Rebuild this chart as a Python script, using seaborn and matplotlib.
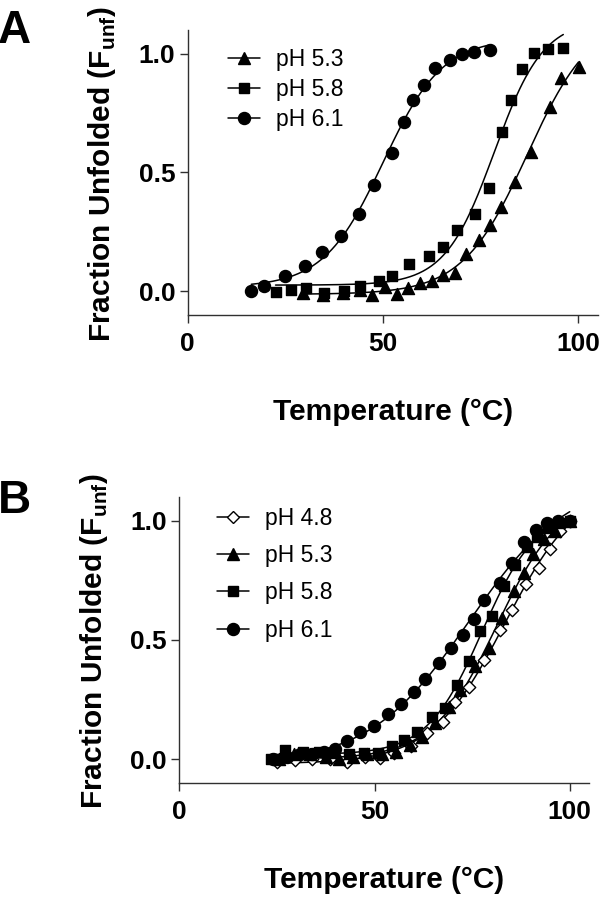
import numpy as np
import matplotlib
matplotlib.use('Agg')
import matplotlib.pyplot as plt
from matplotlib.lines import Line2D
import seaborn as sns

# Panel A data (temperature in C, fraction unfolded)
a_ph53_t = [29.5, 34.7, 39.8, 44.1, 47.2, 50.5, 53.5, 56.4, 59.6, 62.5, 65.4, 68.5,
            71.4, 74.6, 77.4, 80.2, 83.9, 88.0, 92.9, 95.6, 100.1]
a_ph53_f = [-0.007, -0.017, -0.007, 0.004, -0.015, 0.018, -0.013, 0.015, 0.036, 0.042,
            0.070, 0.077, 0.158, 0.215, 0.278, 0.355, 0.460, 0.586, 0.776, 0.899, 0.944]
a_ph58_t = [22.5, 26.5, 30.4, 34.8, 40.0, 44.1, 49.0, 52.3, 56.7, 61.9, 65.4, 68.9,
            73.5, 77.1, 80.5, 82.8, 85.7, 88.8, 92.2, 96.2]
a_ph58_f = [-0.003, 0.007, 0.015, -0.006, 0.001, 0.022, 0.042, 0.065, 0.114, 0.149,
            0.185, 0.259, 0.327, 0.433, 0.670, 0.804, 0.937, 1.003, 1.018, 1.025]
a_ph61_t = [16.3, 19.6, 24.9, 30.0, 34.5, 39.2, 43.8, 47.6, 52.3, 55.5, 57.6, 60.4,
            63.4, 67.1, 70.3, 73.3, 77.5]
a_ph61_f = [0.0, 0.022, 0.066, 0.107, 0.167, 0.233, 0.324, 0.448, 0.582, 0.713, 0.806,
            0.867, 0.94, 0.975, 0.997, 1.007, 1.017]

# Panel B data
b_ph48_t = [25.1, 29.6, 33.9, 38.7, 42.9, 47.6, 51.5, 55.0, 59.3, 63.5, 67.5, 70.7,
            74.1, 78.0, 82.2, 85.3, 88.8, 92.0, 95.0, 97.6, 100.0]
b_ph48_f = [-0.01, -0.005, 0.0, 0.0, -0.01, 0.01, 0.003, 0.024, 0.055, 0.108, 0.157,
            0.24, 0.304, 0.417, 0.543, 0.627, 0.733, 0.80, 0.883, 0.957, 1.0]
b_ph53_t = [25.5, 29.5, 33.5, 37.5, 41.0, 44.5, 48.0, 52.0, 55.5, 59.0, 62.2, 65.6,
            69.0, 72.0, 75.8, 79.2, 82.7, 85.6, 88.2, 90.6, 93.3, 96.3, 100.0]
b_ph53_f = [0.0, 0.02, 0.02, 0.01, 0.0, 0.01, 0.02, 0.02, 0.03, 0.06, 0.094, 0.15,
            0.22, 0.29, 0.389, 0.466, 0.592, 0.705, 0.78, 0.859, 0.922, 0.957, 1.0]
b_ph58_t = [23.5, 27.1, 31.8, 35.9, 39.5, 43.4, 47.2, 51.0, 54.6, 57.5, 60.9, 64.7,
            68.1, 71.1, 74.1, 77.1, 80.1, 83.1, 86.1, 89.1, 91.6, 94.5, 97.2, 100.0]
b_ph58_f = [0.0, 0.04, 0.031, 0.031, 0.025, 0.021, 0.024, 0.024, 0.056, 0.08, 0.115,
            0.178, 0.213, 0.312, 0.413, 0.536, 0.602, 0.726, 0.813, 0.891, 0.933, 0.97,
            0.99, 1.0]
b_ph61_t = [24.0, 27.5, 31.0, 34.0, 37.0, 39.8, 43.0, 46.3, 49.9, 53.5, 56.8, 60.0,
            63.0, 66.4, 69.7, 72.6, 75.4, 78.1, 82.2, 85.2, 88.4, 91.3, 94.2, 97.0, 100.0]
b_ph61_f = [0.0, 0.01, 0.02, 0.02, 0.03, 0.041, 0.077, 0.115, 0.14, 0.189, 0.233, 0.282,
            0.336, 0.403, 0.466, 0.522, 0.589, 0.667, 0.74, 0.821, 0.912, 0.96, 0.992,
            1.0, 1.0]

x_ticks = [0, 50, 100]
y_ticks = [0.0, 0.5, 1.0]
y_ticklabels = ['0.0', '0.5', '1.0']


def boltzmann_fit(t, f):
    # grid search on Tm / slope, bottom and top solved by least squares
    t = np.asarray(t, float)
    f = np.asarray(f, float)
    tm = np.arange(30, 130, 0.25)[:, None, None]
    k = np.arange(1.0, 30, 0.1)[None, :, None]
    s = 1 / (1 + np.exp((tm - t) / k))
    u = 1 - s
    a = (u * u).sum(-1)
    b = (u * s).sum(-1)
    c = (s * s).sum(-1)
    d = (u * f).sum(-1)
    e = (s * f).sum(-1)
    det = a * c - b * b
    bot = (c * d - b * e) / det
    top = (a * e - b * d) / det
    res = ((f - bot[..., None] * u - top[..., None] * s) ** 2).sum(-1)
    i, j = np.unravel_index(np.nanargmin(res), res.shape)
    tt = np.linspace(t.min(), t.max(), 200)
    ff = bot[i, j] + (top[i, j] - bot[i, j]) / (1 + np.exp((tm[i, 0, 0] - tt) / k[0, j, 0]))
    return tt, ff


sns.set_style('ticks')
plt.rcParams['font.family'] = ['Liberation Sans', 'DejaVu Sans']
plt.rcParams['font.weight'] = 'bold'
plt.rcParams['text.color'] = 'black'
plt.rcParams['axes.labelcolor'] = 'black'
plt.rcParams['xtick.color'] = 'black'
plt.rcParams['ytick.color'] = 'black'
plt.rcParams['mathtext.fontset'] = 'custom'
plt.rcParams['mathtext.rm'] = 'Liberation Sans:bold'
plt.rcParams['mathtext.bf'] = 'Liberation Sans:bold'

fig = plt.figure(figsize=(6, 9), dpi=100)
ax_a = fig.add_axes([0.3128, 0.65, 0.6833, 0.3167])
ax_b = fig.add_axes([0.2988, 0.13, 0.6833, 0.3178])

styles = {
    'pH 4.8': dict(marker='D', s=40, fc='white'),
    'pH 5.3': dict(marker='^', s=75, fc='black'),
    'pH 5.8': dict(marker='s', s=60, fc='black'),
    'pH 6.1': dict(marker='o', s=75, fc='black'),
}

panels = [
    (ax_a, [('pH 5.3', a_ph53_t, a_ph53_f), ('pH 5.8', a_ph58_t, a_ph58_f),
            ('pH 6.1', a_ph61_t, a_ph61_f)], 0.3, (0.098, 0.935)),
    (ax_b, [('pH 4.8', b_ph48_t, b_ph48_f), ('pH 5.3', b_ph53_t, b_ph53_f),
            ('pH 5.8', b_ph58_t, b_ph58_f), ('pH 6.1', b_ph61_t, b_ph61_f)], 0.62, (0.092, 0.965)),
]

for ax, series, lspace, anchor in panels:
    handles = []
    for name, t, f in series:
        st = styles[name]
        tt, ff = boltzmann_fit(t, f)
        sns.lineplot(x=tt, y=ff, ax=ax, color='black', lw=1.1, zorder=2)
        sns.scatterplot(x=t, y=f, ax=ax, marker=st['marker'], s=st['s'],
                        facecolor=st['fc'], edgecolor='black', linewidth=1.0, zorder=3)
        handles.append(Line2D([], [], color='black', lw=1.1, marker=st['marker'],
                              markersize=np.sqrt(st['s']), markerfacecolor=st['fc'],
                              markeredgecolor='black', markeredgewidth=1.0, label=name))
    ax.legend(handles=handles, loc='upper left', bbox_to_anchor=anchor, frameon=False,
              borderaxespad=0, borderpad=0, labelspacing=lspace, handlelength=1.4,
              handletextpad=0.7, prop={'size': 16.5, 'weight': 'normal'})
    ax.set_xlim(0, 105)
    ax.set_ylim(-0.1, 1.1)
    ax.set_xticks(x_ticks)
    ax.set_yticks(y_ticks)
    ax.set_yticklabels(y_ticklabels)
    ax.tick_params(axis='both', direction='out', length=6, width=1.0, color='#303030',
                   labelsize=19, labelcolor='black')
    ax.tick_params(axis='x', pad=6)
    ax.tick_params(axis='y', pad=3)
    for sp in ['left', 'bottom']:
        ax.spines[sp].set_linewidth(1.0)
        ax.spines[sp].set_color('#303030')
    sns.despine(ax=ax)
    ax.set_xlabel('Temperature (°C)', fontsize=21.5, fontweight='bold')
    ax.set_ylabel(r'Fraction Unfolded (F$_{\mathrm{unf}}$)', fontsize=21.5, fontweight='bold')
    ax.xaxis.set_label_coords(0.5, -0.29)
    ax.yaxis.set_label_coords(-0.17, 0.495)

fig.text(-0.003, 0.952, 'A', fontsize=33, fontweight='bold', ha='left', va='baseline')
fig.text(-0.003, 0.430, 'B', fontsize=33, fontweight='bold', ha='left', va='baseline')

fig.savefig('out.png', dpi=100)
